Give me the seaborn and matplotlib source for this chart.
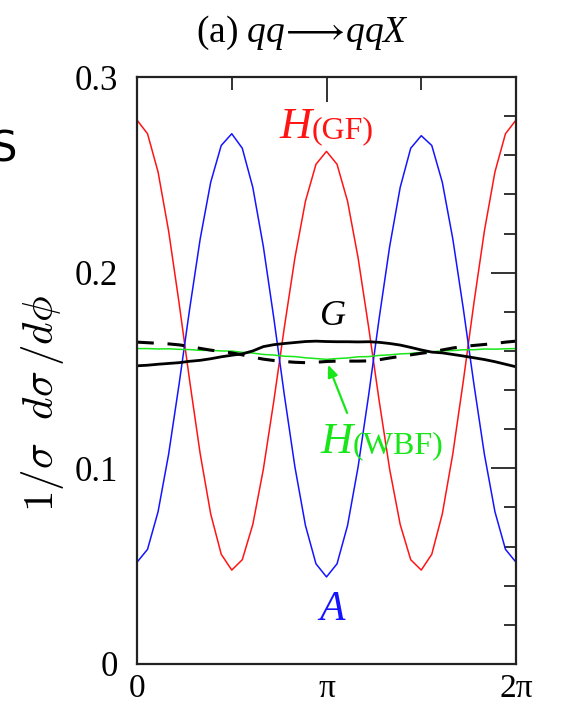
import numpy as np
import pandas as pd
import matplotlib
matplotlib.use("Agg")
import matplotlib.pyplot as plt
import seaborn as sns

# ---------------- data ----------------
phi_deg = list(range(0, 361, 10))

h_gf = [0.278, 0.271, 0.2515, 0.2214, 0.1844, 0.1448, 0.1075, 0.0767, 0.0561, 0.048,
        0.0533, 0.0713, 0.0995, 0.1346, 0.1722, 0.2076, 0.2365, 0.2554, 0.262,
        0.2554, 0.2365, 0.2076, 0.1722, 0.1346, 0.0995, 0.0713, 0.0533, 0.048,
        0.0561, 0.0767, 0.1075, 0.1448, 0.1844, 0.2214, 0.2515, 0.271, 0.278]

a_curve = [0.052, 0.0586, 0.0778, 0.1071, 0.1431, 0.1814, 0.2172, 0.2462, 0.2650, 0.271,
           0.2636, 0.2436, 0.2134, 0.1766, 0.1373, 0.1007, 0.0708, 0.0512, 0.0445,
           0.0512, 0.0708, 0.1007, 0.1373, 0.1766, 0.2134, 0.2436, 0.2636, 0.270,
           0.2650, 0.2462, 0.2172, 0.1814, 0.1431, 0.1071, 0.0778, 0.0586, 0.052]

h_wbf = [0.1612, 0.1612, 0.1610, 0.1611, 0.1608, 0.1607, 0.1603, 0.1603, 0.1600, 0.1599,
         0.1593, 0.1589, 0.1582, 0.1579, 0.1573, 0.1571, 0.1565, 0.1561, 0.1557,
         0.1561, 0.1564, 0.1570, 0.1571, 0.1577, 0.1580, 0.1585, 0.1587, 0.1593,
         0.1595, 0.1601, 0.1602, 0.1606, 0.1606, 0.1610, 0.1609, 0.1611, 0.1612]

g_solid = [0.1524, 0.1527, 0.1532, 0.1536, 0.1540, 0.1547, 0.1552, 0.1560, 0.1570, 0.1578,
           0.1585, 0.1600, 0.1622, 0.1632, 0.1638, 0.1643, 0.1648, 0.1650, 0.1648,
           0.1647, 0.1647, 0.1646, 0.1647, 0.1644, 0.1638, 0.1630, 0.1618, 0.1605,
           0.1594, 0.1590, 0.1582, 0.1574, 0.1565, 0.1556, 0.1545, 0.1532, 0.1519]

g_dashed = [0.1645, 0.1642, 0.1639, 0.1636, 0.1631, 0.1623, 0.1613, 0.1604, 0.1597, 0.1590,
            0.1580, 0.1568, 0.1558, 0.1551, 0.1546, 0.1542, 0.1540, 0.1542, 0.1546,
            0.1548, 0.1548, 0.1548, 0.1549, 0.1555, 0.1564, 0.1572, 0.1580, 0.1588,
            0.1595, 0.1605, 0.1615, 0.1623, 0.1628, 0.1633, 0.1638, 0.1645, 0.1650]

x_tick_labels = ["0", "π", "2π"]
y_ticks = [0, 0.1, 0.2, 0.3]
y_tick_labels = ["0", "0.1", "0.2", "0.3"]

# ---------------- style ----------------
sns.set_theme(style="white")
plt.rcParams["font.family"] = ["Liberation Serif", "DejaVu Serif"]
plt.rcParams["mathtext.fontset"] = "custom"
plt.rcParams["mathtext.rm"] = "Liberation Serif"
plt.rcParams["mathtext.it"] = "Liberation Serif:italic"
plt.rcParams["text.color"] = "black"

phi = np.deg2rad(phi_deg)
df = pd.DataFrame({"phi": phi, "hgf": h_gf, "a": a_curve, "hwbf": h_wbf,
                   "gs": g_solid, "gd": g_dashed})

fig = plt.figure(figsize=(5.62, 7.05), dpi=100)
ax = fig.add_axes([137 / 562, 41 / 705, 379 / 562, 587 / 705])

sns.lineplot(data=df, x="phi", y="hgf", ax=ax, color="#ff1414", lw=1.1)
sns.lineplot(data=df, x="phi", y="a", ax=ax, color="#1414ff", lw=1.1)
sns.lineplot(data=df, x="phi", y="hwbf", ax=ax, color="#19e619", lw=1.1)
sns.lineplot(data=df, x="phi", y="gd", ax=ax, color="black", lw=2.2,
             linestyle=(0, (5.5, 4.5)))
sns.lineplot(data=df, x="phi", y="gs", ax=ax, color="black", lw=2.0)

ax.set_xlim(0, 2 * np.pi)
ax.set_ylim(0, 0.3)
ax.set_xlabel("")
ax.set_ylabel("")

ax.set_xticks([0, np.pi, 2 * np.pi])
ax.set_xticklabels(x_tick_labels)
ax.set_xticks([np.pi / 2, 3 * np.pi / 2], minor=True)
ax.set_yticks(y_ticks)
ax.set_yticklabels(y_tick_labels)
ax.set_yticks(np.arange(0.02, 0.3, 0.02), minor=True)

ax.tick_params(which="both", direction="in", top=True, right=True,
               color="#222222", width=1.3, labelcolor="black")
ax.tick_params(which="major", length=18)
ax.tick_params(which="minor", length=9)
ax.tick_params(axis="x", which="major", labelsize=24, pad=7)
ax.tick_params(axis="y", which="major", labelsize=25, pad=14)
for s in ax.spines.values():
    s.set_color("#222222")
    s.set_linewidth(1.6)

# curve labels
ax.text(2.90, 0.2688, "H", color="#ff1414", fontsize=32, fontstyle="italic",
        ha="right", va="baseline")
ax.text(2.90, 0.2688, "(GF)", color="#ff1414", fontsize=23, ha="left", va="baseline")
ax.text(3.25, 0.1732, "G", color="black", fontsize=26, fontstyle="italic",
        ha="center", va="baseline")
ax.text(3.58, 0.1078, "H", color="#19e619", fontsize=32, fontstyle="italic",
        ha="right", va="baseline")
ax.text(3.58, 0.1078, "(WBF)", color="#19e619", fontsize=23, ha="left", va="baseline")
ax.text(3.23, 0.0225, "A", color="#1414ff", fontsize=30, fontstyle="italic",
        ha="center", va="baseline")
ax.annotate("", xy=(3.15, 0.1543), xytext=(3.50, 0.127),
            arrowprops=dict(arrowstyle="-|>,head_length=0.6,head_width=0.25",
                            color="#19e619", lw=1.6))

# title and axis label
fig.text(302 / 562, 1 - 33 / 705, r"(a) $qq\!\longrightarrow\!qqX$", fontsize=27,
         ha="center", va="center")
fig.text(42 / 562, 1 - 404 / 705, r"$1/\sigma\ \ d\sigma\,/d\phi$", fontsize=31,
         rotation=90, ha="center", va="center", math_fontfamily="cm")
fig.text(17 / 562, 1 - 150 / 705, "S", fontsize=30, family="DejaVu Sans",
         ha="right", va="center")

fig.savefig("out.png", dpi=100, facecolor="white")
